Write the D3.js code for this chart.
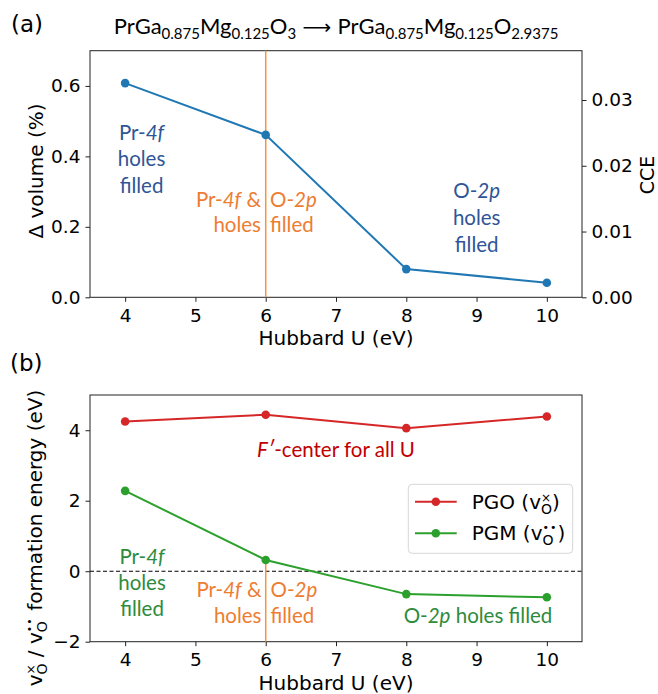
<!DOCTYPE html>
<html>
<head>
<meta charset="utf-8">
<script src="https://d3js.org/d3.v7.min.js"></script>
<style>
 body { margin: 0; background: #fff; }
 text { white-space: pre; }
</style>
</head>
<body>
<svg id="chart" width="658" height="694"></svg>
<script>
// data
var hubbardU = [4, 6, 8, 10];
var dVolume = [0.608, 0.461, 0.080, 0.0415];   // Δ volume (%)
var pgoEnergy = [4.25, 4.44, 4.06, 4.39];      // PGO (v_O^x)
var pgmEnergy = [2.28, 0.32, -0.65, -0.74];    // PGM (v_O^..)
var xTicks = [4, 5, 6, 7, 8, 9, 10];
var volTicks = [0.0, 0.2, 0.4, 0.6];
var cceTicks = [0.00, 0.01, 0.02, 0.03];
var energyTicks = [-2, 0, 2, 4];

var tickFont = "DejaVu Sans";
var noteFont = "Lato";
var blueLine = "#1f77b4", redLine = "#d62728", greenLine = "#2ca02c";
var blueText = "#2f5597", orangeText = "#ed7d31", greenText = "#2e8b3c", redText = "#c00000";
var orangeLine = "#f7943a";
var noteSize = 20.5;

var svg = d3.select("#chart");

// rich text with sub/superscripts; parts: {t, size, dy, italic, stack, ls}
function rich(parent, parts, o) {
    var g = parent.append("g");
    var inner = g.append("g");
    var x = 0, lastStart = 0;
    parts.forEach(function (p) {
        var px = p.stack ? lastStart : x;
        var t = inner.append("text")
            .attr("x", px).attr("y", p.dy || 0)
            .attr("font-family", p.font || o.font)
            .attr("font-size", p.size || o.size)
            .attr("font-style", p.italic ? "italic" : null)
            .attr("letter-spacing", p.ls || null)
            .attr("fill", o.fill || "#000")
            .text(p.t);
        var w = t.node().getComputedTextLength();
        if (p.stack) { x = Math.max(x, px + w); }
        else { lastStart = px; x = px + w; }
    });
    var shift = o.anchor === "middle" ? -x / 2 : (o.anchor === "end" ? -x : 0);
    inner.attr("transform", "translate(" + shift + ",0)");
    g.attr("transform", "translate(" + o.x + "," + o.y + ") rotate(" + (o.rotate || 0) + ")");
    return g;
}

function note(lines, x, y0, lh, color, anchor) {
    lines.forEach(function (parts, i) {
        rich(svg, parts, {x: x, y: y0 + i * lh, size: noteSize, font: noteFont, fill: color, anchor: anchor || "middle"});
    });
}

var x = d3.scaleLinear().domain([3.5, 10.5]).range([90, 582]);

function frame(g, y, top, bottom) {
    g.append("rect").attr("x", 90).attr("y", top).attr("width", 492).attr("height", bottom - top)
        .attr("fill", "none").attr("stroke", "#222").attr("stroke-width", 1);
    var xa = g.append("g").attr("transform", "translate(0," + bottom + ")")
        .call(d3.axisBottom(x).tickValues(xTicks).tickFormat(d3.format("d")).tickSize(4.5).tickPadding(7));
    xa.select(".domain").remove();
    xa.selectAll("text").attr("font-family", tickFont).attr("font-size", 18.5).attr("fill", "#000");
    xa.selectAll("line").attr("stroke", "#222");
}

function styleY(a) {
    a.select(".domain").remove();
    a.selectAll("text").attr("font-family", tickFont).attr("font-size", 18.5).attr("fill", "#000");
    a.selectAll("line").attr("stroke", "#222");
}

// ---------- panel (a) ----------
var topA = 50.7, botA = 297.3;
var yVol = d3.scaleLinear().domain([0, 0.7]).range([botA, topA]);
var yCce = d3.scaleLinear().domain([0, 0.0375]).range([botA, topA]);
var gA = svg.append("g");
frame(gA, yVol, topA, botA);
gA.append("g").attr("transform", "translate(90,0)")
    .call(d3.axisLeft(yVol).tickValues(volTicks).tickFormat(d3.format(".1f")).tickSize(4.5).tickPadding(5))
    .call(styleY);
gA.append("g").attr("transform", "translate(582,0)")
    .call(d3.axisRight(yCce).tickValues(cceTicks).tickFormat(d3.format(".2f")).tickSize(4.5).tickPadding(5))
    .call(styleY);

gA.append("line").attr("x1", x(6)).attr("x2", x(6)).attr("y1", topA).attr("y2", botA)
    .attr("stroke", orangeLine).attr("stroke-width", 1.5);

var lineA = d3.line().x(function (d, i) { return x(hubbardU[i]); }).y(function (d) { return yVol(d); });
gA.append("path").attr("d", lineA(dVolume)).attr("fill", "none").attr("stroke", blueLine).attr("stroke-width", 2);
gA.selectAll("circle").data(dVolume).enter().append("circle")
    .attr("cx", function (d, i) { return x(hubbardU[i]); })
    .attr("cy", function (d) { return yVol(d); })
    .attr("r", 4.3).attr("fill", blueLine);

// axis labels (a)
svg.append("text").attr("transform", "translate(43,171) rotate(-90)").attr("text-anchor", "middle")
    .attr("font-family", tickFont).attr("font-size", 20).text("Δ volume (%)");
svg.append("text").attr("transform", "translate(654,175) rotate(-90)").attr("text-anchor", "middle")
    .attr("font-family", tickFont).attr("font-size", 19).text("CCE");
svg.append("text").attr("x", 336).attr("y", 345).attr("text-anchor", "middle")
    .attr("font-family", tickFont).attr("font-size", 20).text("Hubbard U (eV)");

// title
svg.append("text").attr("x", 11).attr("y", 32).attr("font-family", tickFont).attr("font-size", 23).text("(a)");
rich(svg, [
    {t: "PrGa"}, {t: "0.875", size: 15, dy: 5}, {t: "Mg"}, {t: "0.125", size: 15, dy: 5}, {t: "O"}, {t: "3", size: 15, dy: 5},
    {t: " ⟶ ", font: "DejaVu Sans", size: 20},
    {t: "PrGa"}, {t: "0.875", size: 15, dy: 5}, {t: "Mg"}, {t: "0.125", size: 15, dy: 5}, {t: "O"}, {t: "2.9375", size: 15, dy: 5}
], {x: 336, y: 33.5, size: 22, font: noteFont, fill: "#000", anchor: "middle"});

// notes (a)
note([[{t: "Pr-"}, {t: "4f", italic: true}], [{t: "holes"}], [{t: "filled"}]], 141.5, 140, 26.3, blueText);
note([[{t: "Pr-"}, {t: "4f", italic: true}, {t: " &"}], [{t: "holes"}]], 261, 206.7, 25, orangeText, "end");
note([[{t: "O-"}, {t: "2p", italic: true}], [{t: "filled"}]], 270, 206.7, 25, orangeText, "start");
note([[{t: "O-"}, {t: "2p", italic: true}], [{t: "holes"}], [{t: "filled"}]], 476.7, 198.3, 26.7, blueText);

// ---------- panel (b) ----------
var topB = 395, botB = 641.7;
var yE = d3.scaleLinear().domain([-2, 5]).range([botB, topB]);
var gB = svg.append("g");
frame(gB, yE, topB, botB);
gB.append("g").attr("transform", "translate(90,0)")
    .call(d3.axisLeft(yE).tickValues(energyTicks).tickFormat(d3.format("d")).tickSize(4.5).tickPadding(5))
    .call(styleY);

gB.append("line").attr("x1", 90).attr("x2", 582).attr("y1", yE(0)).attr("y2", yE(0))
    .attr("stroke", "#000").attr("stroke-width", 1.1).attr("stroke-dasharray", "4,2.5");
gB.append("line").attr("x1", x(6)).attr("x2", x(6)).attr("y1", yE(pgmEnergy[1])).attr("y2", botB)
    .attr("stroke", orangeLine).attr("stroke-width", 1.5);

function series(data, color) {
    var l = d3.line().x(function (d, i) { return x(hubbardU[i]); }).y(function (d) { return yE(d); });
    gB.append("path").attr("d", l(data)).attr("fill", "none").attr("stroke", color).attr("stroke-width", 2);
    gB.append("g").selectAll("circle").data(data).enter().append("circle")
        .attr("cx", function (d, i) { return x(hubbardU[i]); })
        .attr("cy", function (d) { return yE(d); })
        .attr("r", 4.3).attr("fill", color);
}
series(pgoEnergy, redLine);
series(pgmEnergy, greenLine);

// legend
var lg = gB.append("g");
lg.append("rect").attr("x", 408.3).attr("y", 484.3).attr("width", 164.4).attr("height", 69)
    .attr("rx", 4).attr("fill", "#fff").attr("fill-opacity", 0.8).attr("stroke", "#d6d6d6");
[["PGO", redLine, {t: "×", size: 12, dy: -7}, 501.7], ["PGM", greenLine, {t: "••", size: 11, dy: -9, ls: 1}, 533.3]].forEach(function (e) {
    lg.append("line").attr("x1", 415).attr("x2", 456.7).attr("y1", e[3]).attr("y2", e[3]).attr("stroke", e[1]).attr("stroke-width", 2);
    lg.append("circle").attr("cx", 435.8).attr("cy", e[3]).attr("r", 4.3).attr("fill", e[1]);
    var sp = e[2];
    var parts = [{t: e[0] + " (v"}, {t: "O", size: 14, dy: 5},
                 {t: sp.t, size: sp.size, dy: sp.dy, ls: sp.ls, stack: true}, {t: ")"}];
    rich(lg, parts, {x: 471.7, y: e[3] + 7, size: 20, font: tickFont, fill: "#000", anchor: "start"});
});

// axis labels (b)
svg.append("text").attr("x", 10).attr("y", 371).attr("font-family", tickFont).attr("font-size", 23).text("(b)");
svg.append("text").attr("x", 336).attr("y", 689.5).attr("text-anchor", "middle")
    .attr("font-family", tickFont).attr("font-size", 20).text("Hubbard U (eV)");
rich(svg, [
    {t: "v"}, {t: "O", size: 14, dy: 5}, {t: "×", size: 12, dy: -7, stack: true},
    {t: " / v"}, {t: "O", size: 14, dy: 5}, {t: "••", size: 11, dy: -9, ls: 1, stack: true},
    {t: " formation energy (eV)"}
], {x: 42, y: 538, size: 20, font: tickFont, fill: "#000", anchor: "middle", rotate: -90});

// notes (b)
rich(svg, [{t: "F′", italic: true}, {t: "-center for all U"}], {x: 336, y: 456.7, size: noteSize, font: noteFont, fill: redText, anchor: "middle"});
note([[{t: "Pr-"}, {t: "4f", italic: true}], [{t: "holes"}], [{t: "filled"}]], 142, 564.3, 25.7, greenText);
note([[{t: "Pr-"}, {t: "4f", italic: true}, {t: " &"}], [{t: "holes"}]], 261.5, 597, 26.3, orangeText, "end");
note([[{t: "O-"}, {t: "2p", italic: true}], [{t: "filled"}]], 270.5, 597, 26.3, orangeText, "start");
note([[{t: "O-"}, {t: "2p", italic: true}, {t: " holes filled"}]], 478, 623.3, 26, greenText);
</script>
</body>
</html>
